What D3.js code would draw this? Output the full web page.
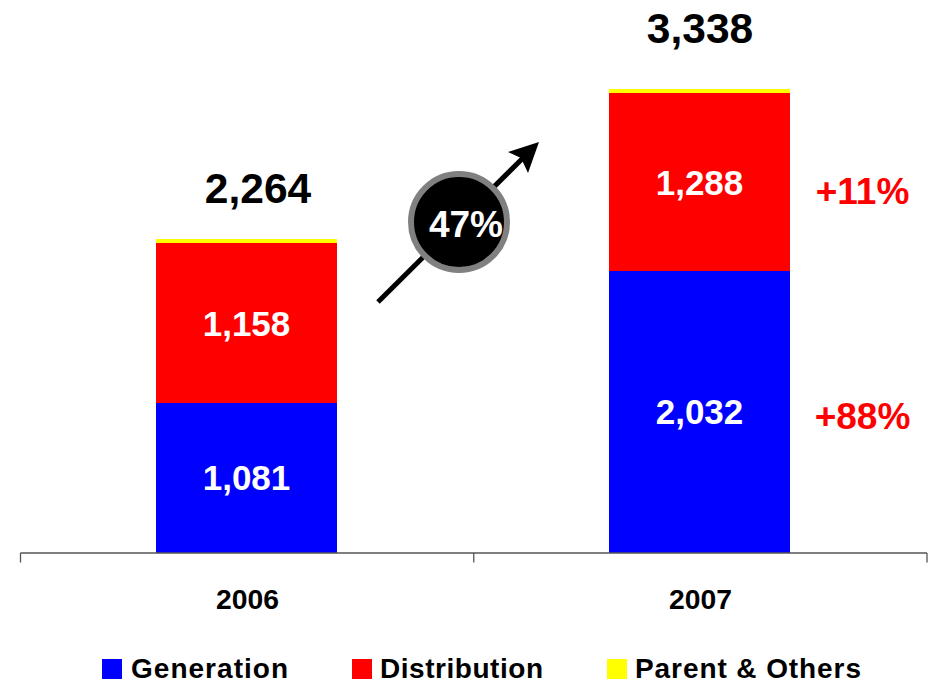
<!DOCTYPE html>
<html><head><meta charset="utf-8">
<script src="https://cdn.jsdelivr.net/npm/d3@7"></script>
<style>html,body{margin:0;padding:0;background:#fff;overflow:hidden}svg{display:block}text{font-family:"Liberation Sans",Arial,sans-serif;font-weight:bold}</style>
</head><body><svg id="c" width="929" height="681"></svg>
<script>
const years=["2006","2007"];
const seriesNames=["Generation","Distribution","Parent & Others"];
const generation=[1081,2032];
const distribution=[1158,1288];
const parent=[29,29];
const totals=[2264,3338];
const growthLabels=["+88%","+11%"];
const changeLabel="47%";
const colors=["#0000ff","#ff0000","#ffff00"];

const svg=d3.select("#c");
const x=d3.scaleBand().domain(years).range([20,926]).paddingInner(0.6).paddingOuter(0.3);
const y=d3.scaleLinear().domain([0,3349]).range([553,89]);
const fmt=d3.format(",");
const rows=years.map((yr,i)=>({year:yr,"Generation":generation[i],"Distribution":distribution[i],"Parent & Others":parent[i]}));
const stack=d3.stack().keys(seriesNames)(rows);

svg.selectAll("g.s").data(stack).join("g").attr("class","s").attr("fill",(d,i)=>colors[i]).attr("shape-rendering","crispEdges")
 .selectAll("rect").data(d=>d).join("rect")
 .attr("x",d=>x(d.data.year)).attr("width",x.bandwidth())
 .attr("y",d=>y(d[1])).attr("height",d=>y(d[0])-y(d[1]));

// axis
const axisEdges=d3.scalePoint().domain(["a","b","c"]).range([20.5,927]);
const ax=svg.append("g").attr("stroke","#555").attr("stroke-width",1.3).attr("fill","none");
ax.append("line").attr("x1",axisEdges("a")).attr("x2",axisEdges("c")).attr("y1",553).attr("y2",553);
ax.selectAll("line.t").data(axisEdges.domain()).join("line").attr("class","t")
 .attr("x1",d=>axisEdges(d)).attr("x2",d=>axisEdges(d)).attr("y1",553).attr("y2",562.5);

svg.selectAll("text.yr").data(years).join("text").attr("class","yr")
 .attr("x",d=>x(d)+x.bandwidth()/2+1).attr("y",609).attr("text-anchor","middle")
 .attr("font-size",28.3).attr("fill","#000").text(d=>d);

// segment labels
const segDy=[12,12.6];
[0,1].forEach(k=>{
 svg.selectAll("text.l"+k).data(stack[k]).join("text").attr("class","l"+k)
  .attr("x",d=>x(d.data.year)+x.bandwidth()/2).attr("y",d=>(y(d[0])+y(d[1]))/2+segDy[k])
  .attr("text-anchor","middle").attr("font-size",35).attr("fill","#fff").text(d=>fmt(d[1]-d[0]));
});
// totals
const totalDx=[11.5,0.5], totalY=[203,43];
svg.selectAll("text.tot").data(totals).join("text").attr("class","tot")
 .attr("x",(d,i)=>x(years[i])+x.bandwidth()/2+totalDx[i]).attr("y",(d,i)=>totalY[i])
 .attr("text-anchor","middle").attr("font-size",42.5).attr("fill","#000").text(d=>fmt(d));
// growth
const growthY=[429,204];
svg.selectAll("text.g").data(growthLabels).join("text").attr("class","g")
 .attr("x",862.5).attr("y",(d,i)=>growthY[i]).attr("text-anchor","middle")
 .attr("font-size",37).attr("fill","#ff0000").text(d=>d);

// arrow + bubble
svg.append("line").attr("x1",378).attr("y1",302).attr("x2",528).attr("y2",153).attr("stroke","#000").attr("stroke-width",5);
svg.append("path").attr("d","M539,142 L508,152 L521,158 L528,173 Z").attr("fill","#000");
svg.append("circle").attr("cx",459).attr("cy",222).attr("r",48).attr("fill","#000").attr("stroke","#808080").attr("stroke-width",6);
svg.append("text").attr("x",466).attr("y",236.5).attr("text-anchor","middle").attr("font-size",37).attr("fill","#fff").text(changeLabel);

// legend
const legendX=[102,352,607], legendTx=[131,380,635], legendW=[157,163,226];
svg.selectAll("rect.lg").data(seriesNames).join("rect").attr("class","lg")
 .attr("x",(d,i)=>legendX[i]).attr("y",659).attr("width",20).attr("height",20).attr("fill",(d,i)=>colors[i]).attr("shape-rendering","crispEdges");
svg.selectAll("text.lg").data(seriesNames).join("text").attr("class","lg")
 .attr("x",(d,i)=>legendTx[i]).attr("y",678).attr("font-size",28).attr("textLength",(d,i)=>legendW[i]).attr("lengthAdjust","spacing").attr("fill","#000").text(d=>d);
</script></body></html>
